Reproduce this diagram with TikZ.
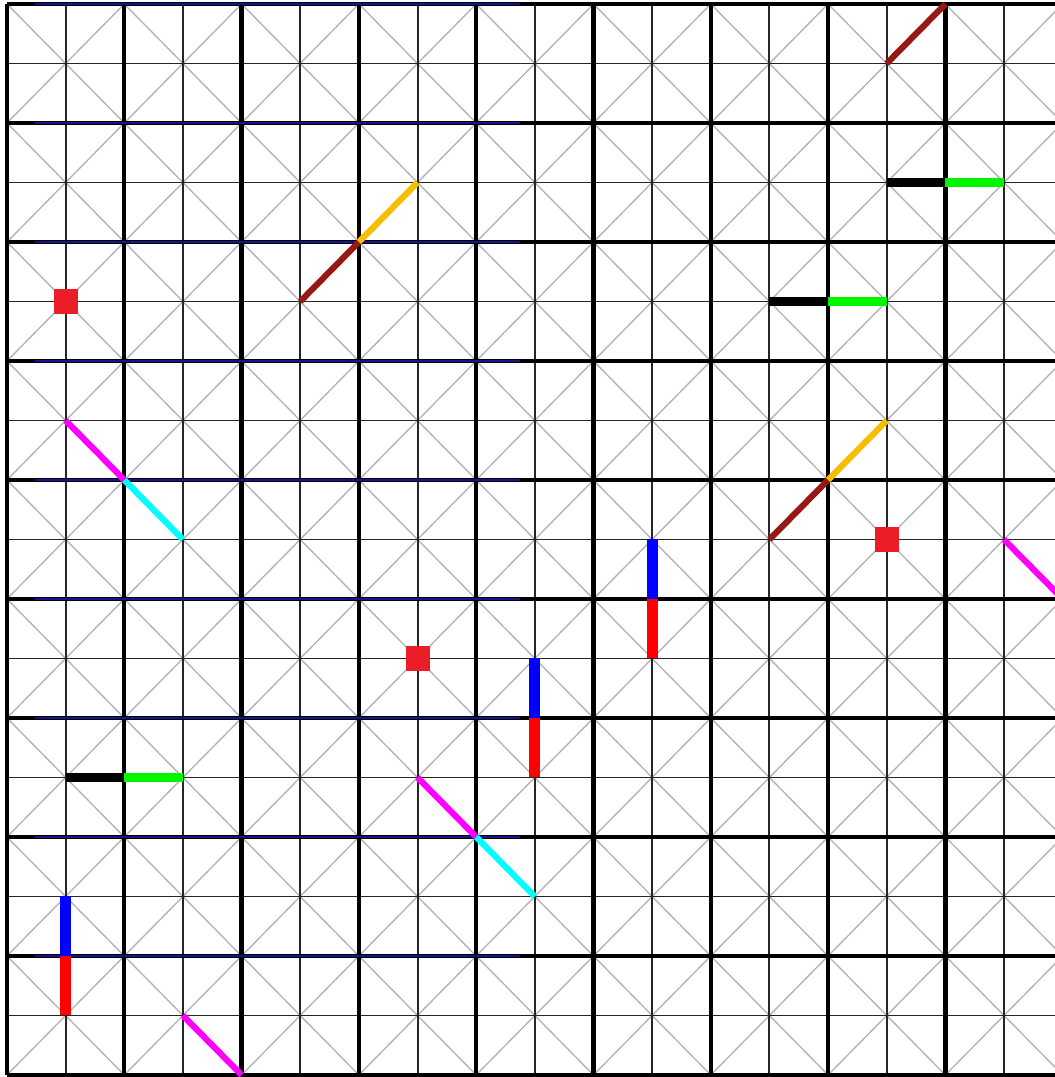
\documentclass[tikz,border=0pt]{standalone}
\usetikzlibrary{positioning}
\definecolor{brownseg}{RGB}{150,25,20}
\definecolor{amberseg}{RGB}{245,190,0}
\definecolor{greenseg}{RGB}{0,245,0}
\definecolor{magentaseg}{RGB}{255,0,255}
\definecolor{cyanseg}{RGB}{0,255,255}
\definecolor{blueseg}{RGB}{0,0,255}
\definecolor{redseg}{RGB}{255,0,0}
\definecolor{squarered}{RGB}{235,30,40}
\definecolor{navyblue}{RGB}{20,20,140}

\begin{document}
\begin{tikzpicture}[x=1cm, y=-1.0145cm,
  diagline/.style={draw=black!30, line width=0.65pt},
  fineline/.style={draw=black!85, line width=0.95pt},
  majorline/.style={draw=black, line width=2.1pt},
  navyline/.style={draw=navyblue, line width=0.75pt},
  diagseg/.style={line width=3pt},
  hseg/.style={line width=4.4pt},
  vseg/.style={line width=5.4pt},
  marker/.style={rectangle, fill=squarered, minimum size=0.41cm, inner sep=0pt}
]
\useasboundingbox (-0.119,-0.067) rectangle (17.868,18.034);
\begin{scope}
\clip (-0.119,-0.067) rectangle (17.868,18.034);
% diagonals of the big cells
\foreach \i in {0,2,...,16}
  \foreach \j in {0,2,...,16}
    \draw[diagline] (\i,\j) -- ++(2,2) (\i+2,\j) -- ++(-2,2);
% fine grid
\foreach \k in {1,3,...,17} {
  \draw[fineline] (\k,0) -- (\k,18);
  \draw[fineline] (0,\k) -- (18,\k);
}
% thick grid
\foreach \k in {0,2,...,18} {
  \draw[majorline] (\k,0) -- (\k,18);
  \draw[majorline] (0,\k) -- (18,\k);
}
\foreach \k in {0,2,...,16}
  \draw[navyline] (0.48,\k) -- (8.75,\k);

% pieces
\foreach \x/\y/\u/\v in {15/1/16/0, 5/5/6/4, 13/9/14/8}
  \draw[diagseg, brownseg] (\x,\y) -- (\u,\v);
\foreach \x/\y/\u/\v in {6/4/7/3, 14/8/15/7}
  \draw[diagseg, amberseg] (\x,\y) -- (\u,\v);
\foreach \x/\y/\u/\v in {1/7/2/8, 17/9/18/10, 7/13/8/14, 3/17/4/18}
  \draw[diagseg, magentaseg] (\x,\y) -- (\u,\v);
\foreach \x/\y/\u/\v in {2/8/3/9, 8/14/9/15}
  \draw[diagseg, cyanseg] (\x,\y) -- (\u,\v);
\foreach \x/\y in {15/3, 13/5, 1/13} {
  \draw[hseg, black] (\x,\y) -- (\x+1,\y);
  \draw[hseg, greenseg] (\x+1,\y) -- (\x+2,\y);
}
\foreach \x/\y in {11/9, 9/11, 1/15} {
  \draw[vseg, blueseg] (\x,\y) -- (\x,\y+1);
  \draw[vseg, redseg] (\x,\y+1) -- (\x,\y+2);
}
\node[marker] (sqa) at (1,5) {};
\node[marker] (sqb) at (15,9) {};
\node[marker] (sqc) at (7,11) {};
\end{scope}
\end{tikzpicture}
\end{document}
